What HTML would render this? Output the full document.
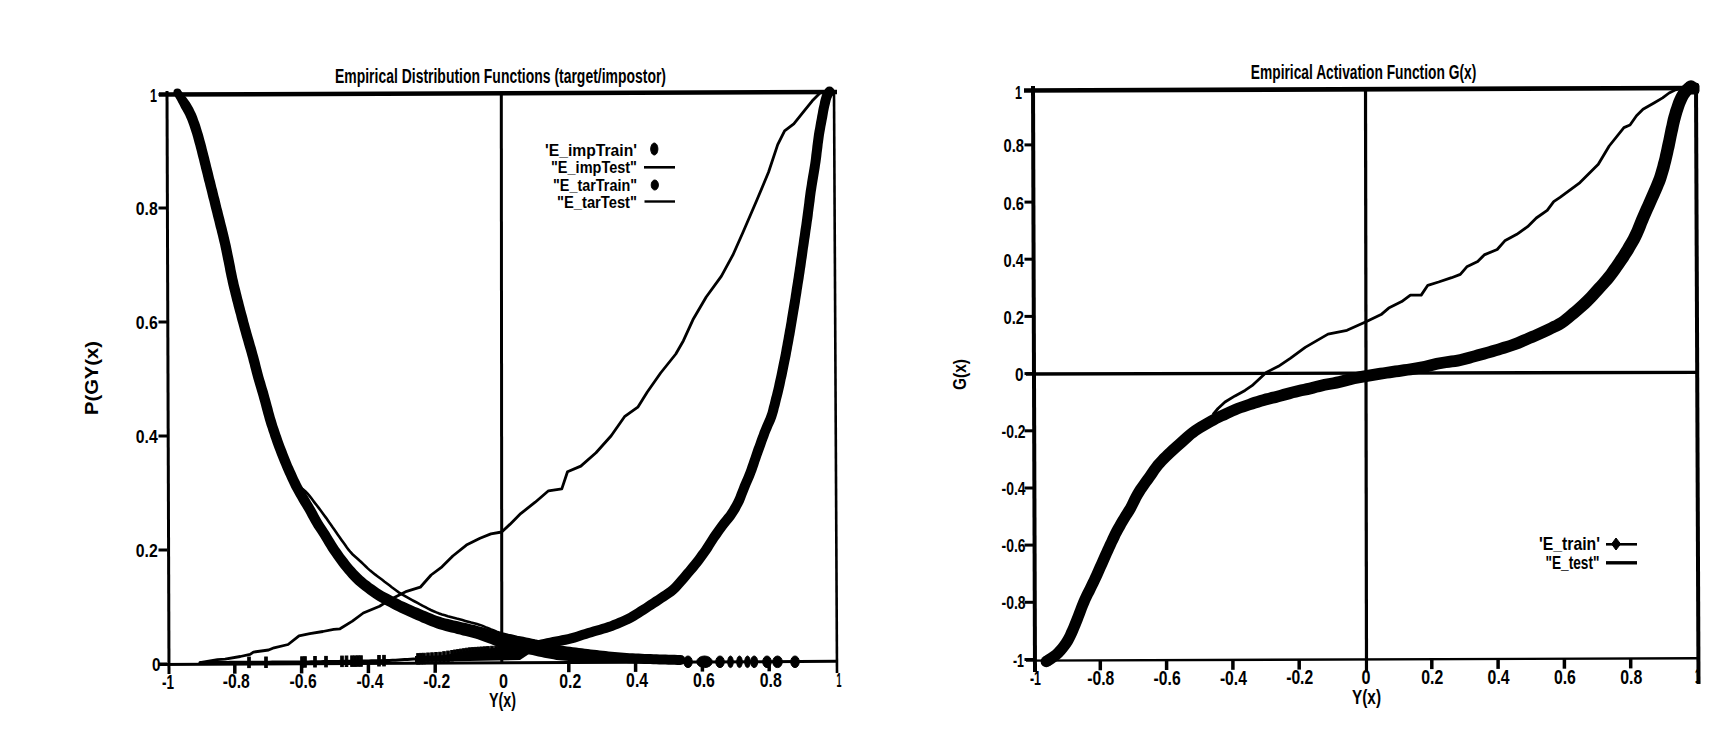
<!DOCTYPE html>
<html><head><meta charset="utf-8"><style>
html,body{margin:0;padding:0;background:#fff;width:1735px;height:737px;overflow:hidden}
svg{display:block}
text{font-family:"Liberation Sans",sans-serif;fill:#000}
</style></head><body>
<svg width="1735" height="737" viewBox="0 0 1735 737">
<rect width="1735" height="737" fill="#fff"/>
<g stroke="#000" fill="#000">
<line x1="167.0" y1="91.0" x2="169.0" y2="674.0" stroke-width="3.0"/>
<line x1="159.0" y1="94.5" x2="837.0" y2="92.0" stroke-width="4.5"/>
<line x1="834.0" y1="90.0" x2="837.0" y2="673.0" stroke-width="2.6"/>
<line x1="159.0" y1="664.5" x2="836.0" y2="661.3" stroke-width="3.0"/>
<line x1="501.3" y1="94.0" x2="501.8" y2="663.0" stroke-width="3.0"/>
<line x1="158.5" y1="94.5" x2="167.0" y2="94.5" stroke-width="3.0"/>
<line x1="158.5" y1="208.0" x2="167.0" y2="208.0" stroke-width="3.0"/>
<line x1="158.5" y1="322.0" x2="167.0" y2="322.0" stroke-width="3.0"/>
<line x1="158.5" y1="436.0" x2="167.0" y2="436.0" stroke-width="3.0"/>
<line x1="158.5" y1="550.0" x2="167.0" y2="550.0" stroke-width="3.0"/>
<line x1="158.5" y1="664.0" x2="167.0" y2="664.0" stroke-width="3.0"/>
<text stroke="none" x="157.8" y="214.8" font-size="19.0" text-anchor="end" font-weight="bold" textLength="22.0" lengthAdjust="spacingAndGlyphs">0.8</text>
<text stroke="none" x="157.8" y="328.8" font-size="19.0" text-anchor="end" font-weight="bold" textLength="22.0" lengthAdjust="spacingAndGlyphs">0.6</text>
<text stroke="none" x="157.8" y="442.8" font-size="19.0" text-anchor="end" font-weight="bold" textLength="22.0" lengthAdjust="spacingAndGlyphs">0.4</text>
<text stroke="none" x="157.8" y="556.8" font-size="19.0" text-anchor="end" font-weight="bold" textLength="22.0" lengthAdjust="spacingAndGlyphs">0.2</text>
<text stroke="none" x="157.0" y="101.5" font-size="19.0" text-anchor="end" font-weight="bold" textLength="7.0" lengthAdjust="spacingAndGlyphs">1</text>
<text stroke="none" x="160.5" y="670.5" font-size="19.0" text-anchor="end" font-weight="bold" textLength="8.5" lengthAdjust="spacingAndGlyphs">0</text>
<line x1="234.8" y1="663.7" x2="234.8" y2="673.7" stroke-width="3.5"/>
<line x1="301.6" y1="663.4" x2="301.6" y2="673.4" stroke-width="3.5"/>
<line x1="368.4" y1="663.1" x2="368.4" y2="673.1" stroke-width="3.5"/>
<line x1="435.2" y1="662.8" x2="435.2" y2="672.8" stroke-width="3.5"/>
<line x1="568.8" y1="662.2" x2="568.8" y2="672.2" stroke-width="3.5"/>
<line x1="635.6" y1="661.9" x2="635.6" y2="671.9" stroke-width="3.5"/>
<line x1="702.4" y1="661.6" x2="702.4" y2="671.6" stroke-width="3.5"/>
<line x1="769.2" y1="661.3" x2="769.2" y2="671.3" stroke-width="3.5"/>
<text stroke="none" x="168.0" y="688.5" font-size="19.5" text-anchor="middle" font-weight="bold" textLength="12.0" lengthAdjust="spacingAndGlyphs">-1</text>
<text stroke="none" x="236.3" y="688.3" font-size="19.5" text-anchor="middle" font-weight="bold" textLength="27.0" lengthAdjust="spacingAndGlyphs">-0.8</text>
<text stroke="none" x="303.1" y="688.2" font-size="19.5" text-anchor="middle" font-weight="bold" textLength="27.0" lengthAdjust="spacingAndGlyphs">-0.6</text>
<text stroke="none" x="369.9" y="688.0" font-size="19.5" text-anchor="middle" font-weight="bold" textLength="27.0" lengthAdjust="spacingAndGlyphs">-0.4</text>
<text stroke="none" x="436.7" y="687.9" font-size="19.5" text-anchor="middle" font-weight="bold" textLength="27.0" lengthAdjust="spacingAndGlyphs">-0.2</text>
<text stroke="none" x="503.5" y="687.7" font-size="19.5" text-anchor="middle" font-weight="bold" textLength="9.0" lengthAdjust="spacingAndGlyphs">0</text>
<text stroke="none" x="570.3" y="687.5" font-size="19.5" text-anchor="middle" font-weight="bold" textLength="22.0" lengthAdjust="spacingAndGlyphs">0.2</text>
<text stroke="none" x="637.1" y="687.4" font-size="19.5" text-anchor="middle" font-weight="bold" textLength="22.0" lengthAdjust="spacingAndGlyphs">0.4</text>
<text stroke="none" x="703.9" y="687.2" font-size="19.5" text-anchor="middle" font-weight="bold" textLength="22.0" lengthAdjust="spacingAndGlyphs">0.6</text>
<text stroke="none" x="770.7" y="687.1" font-size="19.5" text-anchor="middle" font-weight="bold" textLength="22.0" lengthAdjust="spacingAndGlyphs">0.8</text>
<text stroke="none" x="839.0" y="686.9" font-size="19.5" text-anchor="middle" font-weight="bold" textLength="5.0" lengthAdjust="spacingAndGlyphs">1</text>
<text stroke="none" x="502.5" y="707.0" font-size="20.5" text-anchor="middle" font-weight="bold" textLength="27.0" lengthAdjust="spacingAndGlyphs">Y(x)</text>
<text stroke="none" transform="translate(97.5,378) rotate(-90)" font-size="19" text-anchor="middle" font-weight="bold" textLength="74" lengthAdjust="spacingAndGlyphs">P(GY(x)</text>
<text stroke="none" x="500.5" y="82.5" font-size="20.0" text-anchor="middle" font-weight="bold" textLength="331.0" lengthAdjust="spacingAndGlyphs">Empirical Distribution Functions (target/impostor)</text>
<text stroke="none" x="637.0" y="155.5" font-size="17.0" text-anchor="end" font-weight="bold" textLength="92.0" lengthAdjust="spacingAndGlyphs">'E_impTrain'</text>
<text stroke="none" x="637.0" y="173.0" font-size="17.0" text-anchor="end" font-weight="bold" textLength="86.0" lengthAdjust="spacingAndGlyphs">"E_impTest"</text>
<text stroke="none" x="637.0" y="190.5" font-size="17.0" text-anchor="end" font-weight="bold" textLength="84.0" lengthAdjust="spacingAndGlyphs">"E_tarTrain"</text>
<text stroke="none" x="637.0" y="208.0" font-size="17.0" text-anchor="end" font-weight="bold" textLength="80.0" lengthAdjust="spacingAndGlyphs">"E_tarTest"</text>
<ellipse cx="654.3" cy="149" rx="3.6" ry="6"/>
<ellipse cx="654.8" cy="185" rx="3.6" ry="5"/>
<line x1="644.0" y1="167.3" x2="675.0" y2="167.3" stroke-width="2.6"/>
<line x1="644.5" y1="201.5" x2="675.0" y2="201.5" stroke-width="2.4"/>
<path d="M174.0 94.8 L175.5 97.5 L177.0 100.1 L178.4 102.7 L179.8 105.3 L181.1 107.9 L182.6 110.4 L184.0 112.9 L185.2 115.3 L186.4 117.9 L187.5 120.5 L188.5 123.2 L189.5 126.0 L190.4 128.7 L191.3 131.5 L192.2 134.3 L193.0 137.1 L193.8 140.0 L194.6 142.9 L195.4 145.7 L196.1 148.6 L196.9 151.5 L197.6 154.4 L198.3 157.3 L199.1 160.2 L199.8 163.2 L200.5 166.1 L201.2 169.0 L202.0 171.9 L202.7 174.8 L203.4 177.7 L204.1 180.7 L204.9 183.6 L205.6 186.5 L206.4 189.4 L207.1 192.3 L207.8 195.3 L208.5 198.2 L209.3 201.1 L210.0 204.0 L210.7 206.9 L211.4 209.8 L212.2 212.8 L212.9 215.7 L213.6 218.6 L214.4 221.5 L215.1 224.4 L215.8 227.4 L216.6 230.3 L217.3 233.2 L218.0 236.1 L218.7 239.0 L219.4 241.9 L220.1 244.8 L220.7 247.7 L221.3 250.6 L221.9 253.5 L222.5 256.4 L223.1 259.4 L223.7 262.3 L224.3 265.3 L224.9 268.2 L225.4 271.2 L226.0 274.1 L226.6 277.1 L227.3 280.1 L227.9 283.1 L228.6 286.1 L229.3 289.0 L230.1 291.9 L230.8 294.9 L231.5 297.8 L232.2 300.7 L233.0 303.6 L233.7 306.6 L234.5 309.5 L235.3 312.4 L236.1 315.3 L236.8 318.2 L237.6 321.2 L238.4 324.1 L239.2 327.0 L240.0 329.9 L240.8 332.8 L241.6 335.7 L242.4 338.6 L243.3 341.5 L244.1 344.4 L244.9 347.3 L245.8 350.2 L246.6 353.1 L247.4 355.9 L248.2 358.8 L248.9 361.7 L249.7 364.5 L250.4 367.5 L251.2 370.4 L251.9 373.3 L252.7 376.3 L253.5 379.2 L254.4 382.2 L255.2 385.1 L256.1 388.0 L256.9 390.8 L257.8 393.7 L258.6 396.5 L259.4 399.4 L260.2 402.3 L261.0 405.2 L261.7 408.1 L262.5 411.0 L263.3 413.9 L264.1 416.8 L264.9 419.8 L265.8 422.7 L266.7 425.7 L267.7 428.6 L268.6 431.4 L269.6 434.3 L270.5 437.2 L271.5 440.0 L272.5 442.9 L273.5 445.8 L274.6 448.7 L275.7 451.5 L276.8 454.4 L277.9 457.2 L279.0 460.0 L280.1 462.8 L281.3 465.6 L282.5 468.4 L283.7 471.2 L284.9 474.0 L286.2 476.8 L287.4 479.5 L288.7 482.3 L290.0 485.1 L291.4 487.9 L292.8 490.6 L294.3 493.3 L295.8 496.0 L297.3 498.6 L298.8 501.3 L300.4 503.9 L302.0 506.5 L303.5 509.1 L305.0 511.6 L306.4 514.1 L307.8 516.7 L309.2 519.3 L310.7 522.0 L312.3 524.8 L313.9 527.5 L315.6 530.1 L317.3 532.6 L318.9 535.0 L320.5 537.5 L322.0 540.0 L323.5 542.6 L325.1 545.2 L326.7 547.8 L328.3 550.4 L330.0 553.0 L331.8 555.5 L333.5 558.0 L335.3 560.6 L337.1 563.0 L338.9 565.5 L340.8 567.9 L342.7 570.3 L344.7 572.7 L346.7 575.1 L348.8 577.5 L350.9 579.8 L353.1 582.0 L355.4 584.2 L357.8 586.3 L360.2 588.3 L362.7 590.3 L365.1 592.1 L367.6 594.0 L370.1 595.8 L372.6 597.6 L375.2 599.3 L378.0 601.0 L380.7 602.6 L383.5 604.1 L386.2 605.4 L388.8 606.8 L391.4 608.2 L394.1 609.7 L396.9 611.1 L399.7 612.5 L402.5 613.8 L405.3 615.0 L408.0 616.3 L410.8 617.5 L413.5 618.7 L416.3 619.9 L419.0 621.1 L421.8 622.4 L424.6 623.6 L427.4 624.8 L430.3 625.9 L433.2 627.1 L436.2 628.2 L439.2 629.2 L442.2 630.1 L445.3 630.9 L448.2 631.7 L451.1 632.4 L454.1 633.1 L457.0 633.9 L459.9 634.6 L462.8 635.4 L465.7 636.1 L468.6 636.8 L471.5 637.6 L474.3 638.3 L477.0 639.1 L479.7 640.0 L482.4 641.0 L485.1 642.0 L487.9 643.0 L490.8 644.1 L493.7 645.2 L496.7 646.2 L499.8 647.2 L502.8 648.0 L505.8 648.8 L508.8 649.5 L511.8 650.2 L514.7 650.9 L517.6 651.6 L520.5 652.3 L523.5 653.0 L526.4 653.7 L529.3 654.4 L532.3 655.1 L535.3 655.8 L538.3 656.4 L541.3 657.1 L544.3 657.7 L547.3 658.2 L550.3 658.8 L553.3 659.3 L556.4 659.9 L559.5 660.3 L562.6 660.6 L565.7 660.8 L568.8 660.9 L571.8 661.1 L574.8 661.2 L577.8 661.3 L580.8 661.5 L583.9 661.6 L586.9 661.7 L589.9 661.8 L593.0 661.9 L596.0 662.0 L599.0 662.1 L602.0 662.2 L605.0 662.2 L608.0 662.3 L611.0 662.4 L614.1 662.4 L617.1 662.5 L620.1 662.6 L623.1 662.8 L626.1 663.0 L629.1 663.2 L632.2 663.3 L635.2 663.5 L638.2 663.6 L641.2 663.7 L644.2 663.9 L647.2 664.0 L650.2 664.1 L653.2 664.2 L656.3 664.3 L659.3 664.4 L662.3 664.5 L665.3 664.6 L668.4 664.7 L671.4 664.8 L674.4 664.8 L677.4 664.9 L680.4 665.0 L680.6 655.0 L677.6 654.9 L674.6 654.8 L671.6 654.8 L668.6 654.7 L665.6 654.6 L662.6 654.5 L659.6 654.4 L656.6 654.3 L653.6 654.2 L650.6 654.1 L647.6 654.0 L644.6 653.9 L641.6 653.7 L638.6 653.6 L635.6 653.5 L632.7 653.3 L629.7 653.2 L626.7 653.0 L623.7 652.8 L620.7 652.6 L617.7 652.3 L614.7 652.0 L611.7 651.7 L608.7 651.4 L605.8 651.0 L602.8 650.7 L599.8 650.4 L596.8 650.1 L593.8 649.7 L590.8 649.4 L587.9 649.1 L584.9 648.7 L582.0 648.3 L579.0 647.9 L576.0 647.5 L573.0 647.2 L570.1 646.8 L567.1 646.4 L564.2 645.9 L561.4 645.5 L558.6 645.1 L555.7 644.7 L552.8 644.2 L549.8 643.7 L546.9 643.3 L544.0 642.8 L541.1 642.2 L538.3 641.7 L535.4 641.1 L532.4 640.5 L529.5 639.9 L526.6 639.2 L523.6 638.6 L520.7 638.0 L517.7 637.4 L514.8 636.7 L511.9 636.1 L509.0 635.5 L506.2 634.8 L503.4 634.2 L500.7 633.4 L498.0 632.5 L495.3 631.6 L492.5 630.6 L489.7 629.6 L486.7 628.6 L483.7 627.6 L480.7 626.7 L477.6 625.9 L474.6 625.1 L471.6 624.4 L468.7 623.8 L465.8 623.1 L462.8 622.4 L459.9 621.8 L457.0 621.1 L454.0 620.4 L451.1 619.8 L448.2 619.1 L445.4 618.4 L442.7 617.7 L440.0 616.8 L437.3 615.9 L434.6 614.9 L431.9 613.8 L429.2 612.7 L426.4 611.6 L423.7 610.4 L420.9 609.2 L418.2 608.0 L415.4 606.9 L412.7 605.7 L409.9 604.5 L407.2 603.3 L404.5 602.1 L401.9 600.9 L399.3 599.6 L396.7 598.2 L394.0 596.9 L391.3 595.5 L388.6 594.1 L386.0 592.8 L383.6 591.5 L381.2 590.0 L378.8 588.5 L376.4 586.8 L374.0 585.1 L371.6 583.4 L369.3 581.6 L367.0 579.9 L364.8 578.1 L362.7 576.3 L360.6 574.3 L358.6 572.3 L356.6 570.2 L354.7 568.1 L352.8 566.0 L350.9 563.7 L349.1 561.4 L347.3 559.1 L345.5 556.7 L343.7 554.4 L342.0 552.0 L340.3 549.6 L338.6 547.2 L337.0 544.7 L335.4 542.3 L333.9 539.8 L332.3 537.3 L330.8 534.7 L329.2 532.0 L327.5 529.4 L325.9 526.9 L324.2 524.4 L322.6 522.0 L321.1 519.5 L319.7 517.1 L318.3 514.5 L316.9 511.8 L315.4 509.1 L313.9 506.4 L312.3 503.8 L310.8 501.2 L309.2 498.6 L307.7 496.1 L306.2 493.5 L304.8 490.9 L303.3 488.3 L301.9 485.8 L300.6 483.2 L299.3 480.6 L298.0 478.0 L296.8 475.3 L295.6 472.5 L294.3 469.8 L293.1 467.1 L291.9 464.4 L290.8 461.7 L289.7 458.9 L288.6 456.2 L287.5 453.4 L286.4 450.6 L285.3 447.8 L284.2 445.1 L283.2 442.3 L282.2 439.5 L281.3 436.7 L280.3 433.9 L279.3 431.0 L278.4 428.2 L277.4 425.4 L276.5 422.5 L275.7 419.7 L274.8 416.9 L274.0 414.1 L273.2 411.2 L272.5 408.3 L271.7 405.4 L270.9 402.5 L270.1 399.6 L269.3 396.7 L268.5 393.7 L267.7 390.8 L266.8 387.9 L265.9 385.0 L265.1 382.1 L264.2 379.3 L263.4 376.4 L262.6 373.6 L261.9 370.7 L261.1 367.8 L260.4 364.9 L259.7 362.0 L258.9 359.1 L258.1 356.1 L257.3 353.2 L256.5 350.3 L255.7 347.3 L254.8 344.4 L254.0 341.6 L253.2 338.7 L252.3 335.8 L251.5 332.9 L250.7 330.0 L249.9 327.2 L249.1 324.3 L248.3 321.4 L247.6 318.5 L246.8 315.6 L246.0 312.7 L245.2 309.8 L244.5 306.9 L243.7 304.0 L243.0 301.1 L242.2 298.2 L241.5 295.3 L240.8 292.4 L240.1 289.5 L239.3 286.6 L238.6 283.7 L238.0 280.8 L237.3 277.9 L236.7 275.0 L236.1 272.1 L235.5 269.2 L235.0 266.2 L234.4 263.3 L233.8 260.3 L233.2 257.3 L232.6 254.4 L232.0 251.4 L231.4 248.5 L230.8 245.5 L230.1 242.5 L229.4 239.5 L228.7 236.6 L228.0 233.6 L227.3 230.7 L226.6 227.8 L225.8 224.8 L225.1 221.9 L224.4 219.0 L223.6 216.1 L222.9 213.2 L222.2 210.3 L221.4 207.4 L220.7 204.4 L220.0 201.5 L219.3 198.6 L218.5 195.7 L217.8 192.8 L217.1 189.8 L216.3 186.9 L215.6 184.0 L214.9 181.1 L214.1 178.2 L213.4 175.3 L212.7 172.3 L212.0 169.4 L211.2 166.5 L210.5 163.6 L209.8 160.7 L209.1 157.7 L208.3 154.8 L207.6 151.9 L206.8 149.0 L206.1 146.0 L205.3 143.1 L204.5 140.2 L203.7 137.2 L202.9 134.3 L202.0 131.4 L201.1 128.4 L200.2 125.5 L199.2 122.6 L198.1 119.7 L197.1 116.7 L195.9 113.8 L194.5 110.9 L193.1 108.0 L191.5 105.3 L189.9 102.6 L188.1 100.1 L186.3 97.6 L184.4 95.2 L182.6 92.8 L180.8 90.4 Z" stroke="none"/>
<circle cx="177.4" cy="92.6" r="4.0" stroke="none"/>
<circle cx="680.5" cy="660.0" r="5.0" stroke="none"/>
<path d="M296.0 484.0 L298.4 485.8 L300.8 487.7 L303.2 489.5 L305.5 491.5 L307.6 493.6 L309.5 495.9 L311.4 498.3 L313.2 500.7 L315.0 503.1 L316.9 505.5 L318.7 507.9 L320.5 510.3 L322.3 512.7 L324.1 515.2 L325.9 517.6 L327.6 520.1 L329.3 522.6 L331.1 525.0 L332.8 527.5 L334.6 530.0 L336.3 532.5 L338.0 534.9 L339.8 537.4 L341.5 539.9 L343.2 542.3 L345.0 544.8 L346.7 547.3 L348.5 549.7 L350.4 552.0 L352.5 554.2 L354.7 556.2 L357.0 558.2 L359.2 560.3 L361.4 562.3 L363.6 564.4 L365.8 566.5 L368.0 568.6 L370.2 570.6 L372.6 572.5 L375.0 574.4 L377.4 576.2 L379.8 578.0 L382.2 579.8 L384.6 581.7 L387.0 583.5 L389.4 585.3 L391.8 587.2 L394.2 589.0 L396.6 590.8 L399.1 592.6 L401.6 594.2 L404.2 595.7 L406.9 597.2 L409.5 598.6 L412.2 600.1 L414.8 601.5 L417.5 602.9 L420.1 604.4 L422.8 605.8 L425.4 607.2 L428.1 608.6 L430.8 610.0 L433.6 611.2 L436.4 612.4 L439.2 613.5 L442.0 614.5 L444.9 615.3 L447.8 616.2 L450.7 617.0 L453.6 617.8 L456.6 618.6 L459.5 619.3 L462.4 620.1 L465.3 620.9 L468.2 621.7 L471.2 622.5 L474.1 623.2 L477.0 624.0 L479.9 624.9 L482.7 625.9 L485.5 627.1 L488.3 628.2 L491.1 629.4 L493.9 630.5 L496.7 631.6 L499.5 632.6 L502.4 633.5 L505.4 634.2 L508.3 634.9 L511.3 635.5 L514.2 636.2 L517.2 636.9 L520.1 637.5 L523.1 638.1 L526.0 638.7 L529.0 639.3 L531.9 639.9 L534.9 640.6 L537.9 641.2 L540.8 641.8 L543.8 642.4 L546.7 643.1 L549.7 643.7 L552.6 644.4 L555.6 645.0 L560.0 646.0" fill="none" stroke-width="2.6"/>
<path d="M200.0 664.0 L203.0 664.0 L206.0 664.0 L209.0 664.0 L212.0 663.9 L215.0 663.9 L218.1 663.9 L221.1 663.9 L224.1 663.9 L227.1 663.9 L230.1 663.8 L233.1 663.8 L236.1 663.8 L239.1 663.8 L242.1 663.8 L245.1 663.8 L248.1 663.8 L251.1 663.7 L254.1 663.7 L257.1 663.7 L260.2 663.7 L263.2 663.7 L266.2 663.7 L269.2 663.7 L272.2 663.6 L275.2 663.6 L278.2 663.6 L281.2 663.6 L284.2 663.6 L287.2 663.6 L290.2 663.5 L293.2 663.5 L296.2 663.5 L299.3 663.5 L302.3 663.5 L305.3 663.4 L308.3 663.4 L311.3 663.3 L314.3 663.3 L317.3 663.2 L320.3 663.2 L323.3 663.1 L326.3 663.1 L329.3 663.0 L332.3 663.0 L335.3 662.9 L338.3 662.9 L341.4 662.8 L344.4 662.8 L347.4 662.7 L350.4 662.7 L353.4 662.6 L356.4 662.6 L359.4 662.5 L362.4 662.5 L365.4 662.4 L368.4 662.4 L371.4 662.3 L374.4 662.3 L377.4 662.2 L380.4 662.2 L383.5 662.1 L386.5 662.0 L389.5 662.0 L392.5 661.8 L395.5 661.7 L398.5 661.5 L401.5 661.3 L404.5 661.1 L407.5 661.0 L410.5 660.8 L413.5 660.6 L416.5 660.4 L419.5 660.2 L422.5 660.0 L425.6 659.9 L428.6 659.7 L431.6 659.5 L434.6 659.3 L437.6 659.1 L440.6 658.8 L443.6 658.6 L446.7 658.2 L449.7 657.9 L452.6 657.6 L455.6 657.2 L458.6 656.9 L461.6 656.5 L464.6 656.2 L467.5 655.9 L470.5 655.7 L473.4 655.5 L476.4 655.4 L479.4 655.3 L482.4 655.2 L485.4 655.1 L488.4 655.0 L491.4 654.9 L494.5 654.8 L497.5 654.6 L500.5 654.5 L503.6 654.3 L506.6 654.0 L509.6 653.7 L512.7 653.5 L515.7 653.2 L518.7 652.9 L521.7 652.5 L524.8 652.2 L527.8 651.7 L530.8 651.3 L533.8 650.9 L536.8 650.5 L539.8 650.0 L542.8 649.4 L545.8 648.8 L548.8 648.1 L551.7 647.4 L554.6 646.8 L557.4 646.2 L560.3 645.7 L563.3 645.2 L566.3 644.7 L569.4 644.0 L572.5 643.3 L575.5 642.4 L578.5 641.5 L581.4 640.6 L584.2 639.6 L587.1 638.7 L589.9 637.8 L592.7 637.0 L595.6 636.1 L598.4 635.3 L601.3 634.5 L604.2 633.6 L607.2 632.8 L610.2 631.8 L613.2 630.8 L616.1 629.6 L618.9 628.4 L621.7 627.3 L624.5 626.1 L627.3 624.8 L630.2 623.5 L633.1 622.0 L635.8 620.4 L638.5 618.8 L641.0 617.2 L643.6 615.5 L646.1 613.9 L648.7 612.3 L651.2 610.6 L653.7 609.0 L656.3 607.3 L658.8 605.7 L661.3 604.0 L663.8 602.3 L666.3 600.7 L668.8 599.0 L671.4 597.3 L674.0 595.4 L676.6 593.3 L679.0 591.0 L681.2 588.6 L683.2 586.3 L685.2 584.0 L687.2 581.7 L689.1 579.4 L691.1 577.1 L693.0 574.8 L695.0 572.5 L697.0 570.2 L698.9 567.8 L700.8 565.4 L702.7 562.9 L704.5 560.5 L706.3 558.1 L708.1 555.5 L709.9 553.0 L711.6 550.4 L713.2 547.8 L714.8 545.3 L716.4 542.8 L718.0 540.3 L719.7 537.9 L721.4 535.5 L723.1 533.1 L724.8 530.7 L726.6 528.3 L728.4 526.0 L730.2 523.7 L732.1 521.4 L734.1 518.9 L735.9 516.3 L737.7 513.6 L739.3 510.9 L740.8 508.1 L742.3 505.3 L743.7 502.4 L744.9 499.5 L746.0 496.6 L747.1 493.8 L748.2 491.0 L749.3 488.3 L750.4 485.6 L751.6 482.8 L752.8 480.0 L754.0 477.2 L755.1 474.3 L756.2 471.4 L757.2 468.5 L758.2 465.7 L759.1 462.8 L760.1 460.0 L761.1 457.1 L762.1 454.3 L763.1 451.5 L764.1 448.7 L765.1 445.9 L766.1 443.0 L767.1 440.2 L768.2 437.4 L769.2 434.6 L770.2 431.9 L771.4 429.3 L772.5 426.5 L773.8 423.8 L775.0 420.9 L776.1 417.9 L777.1 414.8 L778.0 411.8 L778.7 408.8 L779.5 405.9 L780.2 402.9 L780.9 400.0 L781.7 397.1 L782.4 394.2 L783.1 391.2 L783.8 388.3 L784.5 385.3 L785.1 382.3 L785.7 379.3 L786.4 376.4 L787.0 373.4 L787.6 370.5 L788.2 367.6 L788.8 364.6 L789.4 361.6 L790.0 358.7 L790.6 355.7 L791.1 352.7 L791.7 349.7 L792.2 346.8 L792.8 343.8 L793.3 340.9 L793.8 337.9 L794.4 334.9 L794.9 331.9 L795.4 329.0 L795.9 326.0 L796.4 323.0 L796.9 320.0 L797.4 317.1 L797.9 314.1 L798.4 311.1 L798.9 308.2 L799.4 305.2 L799.9 302.2 L800.3 299.2 L800.8 296.2 L801.3 293.3 L801.7 290.3 L802.2 287.3 L802.6 284.4 L803.1 281.4 L803.6 278.4 L804.0 275.4 L804.5 272.4 L804.9 269.5 L805.4 266.5 L805.8 263.5 L806.2 260.5 L806.7 257.5 L807.1 254.6 L807.5 251.6 L807.9 248.6 L808.4 245.6 L808.8 242.7 L809.2 239.7 L809.7 236.7 L810.1 233.7 L810.5 230.8 L811.0 227.8 L811.4 224.8 L811.8 221.8 L812.3 218.8 L812.7 215.8 L813.0 212.8 L813.4 209.8 L813.8 206.8 L814.2 203.8 L814.6 200.9 L814.9 197.9 L815.3 194.9 L815.7 192.0 L816.2 189.1 L816.6 186.2 L817.1 183.2 L817.6 180.2 L818.1 177.3 L818.6 174.3 L819.1 171.3 L819.6 168.3 L820.0 165.3 L820.5 162.3 L820.9 159.3 L821.3 156.3 L821.6 153.3 L822.0 150.3 L822.4 147.3 L822.7 144.3 L823.1 141.4 L823.5 138.4 L823.9 135.5 L824.4 132.6 L824.9 129.7 L825.4 126.8 L826.0 123.8 L826.5 120.9 L827.1 117.9 L827.6 115.0 L828.1 112.0 L828.7 109.1 L829.3 106.2 L830.0 103.4 L830.6 100.7 L831.3 98.4 L832.2 96.4 L833.6 94.4 L825.4 88.7 L823.5 91.5 L822.0 94.7 L821.0 98.0 L820.2 101.1 L819.6 104.2 L818.9 107.1 L818.3 110.1 L817.8 113.1 L817.2 116.1 L816.7 119.1 L816.1 122.0 L815.6 125.0 L815.1 128.0 L814.5 131.0 L814.0 134.0 L813.6 137.0 L813.2 140.1 L812.8 143.1 L812.4 146.1 L812.1 149.1 L811.7 152.0 L811.3 155.0 L811.0 158.0 L810.6 160.9 L810.2 163.8 L809.7 166.8 L809.2 169.7 L808.7 172.7 L808.2 175.6 L807.7 178.6 L807.2 181.6 L806.8 184.6 L806.3 187.6 L805.8 190.6 L805.4 193.6 L805.0 196.6 L804.6 199.6 L804.3 202.6 L803.9 205.6 L803.5 208.6 L803.1 211.5 L802.7 214.5 L802.3 217.5 L801.9 220.4 L801.5 223.4 L801.1 226.3 L800.6 229.3 L800.2 232.3 L799.8 235.3 L799.3 238.2 L798.9 241.2 L798.5 244.2 L798.0 247.2 L797.6 250.2 L797.2 253.1 L796.8 256.1 L796.3 259.1 L795.9 262.1 L795.5 265.0 L795.0 268.0 L794.6 271.0 L794.1 273.9 L793.7 276.9 L793.2 279.9 L792.8 282.8 L792.3 285.8 L791.8 288.8 L791.4 291.7 L790.9 294.7 L790.5 297.7 L790.0 300.6 L789.5 303.6 L789.0 306.5 L788.5 309.5 L788.0 312.5 L787.5 315.4 L787.0 318.4 L786.6 321.4 L786.1 324.3 L785.6 327.3 L785.0 330.2 L784.5 333.2 L784.0 336.1 L783.5 339.1 L782.9 342.0 L782.4 345.0 L781.8 347.9 L781.3 350.9 L780.8 353.8 L780.2 356.7 L779.6 359.7 L779.0 362.6 L778.4 365.5 L777.8 368.5 L777.2 371.4 L776.6 374.4 L776.0 377.3 L775.3 380.2 L774.7 383.1 L774.1 386.0 L773.4 388.9 L772.7 391.8 L772.0 394.7 L771.2 397.6 L770.5 400.5 L769.8 403.4 L769.0 406.3 L768.3 409.2 L767.6 411.9 L766.7 414.6 L765.7 417.2 L764.6 419.8 L763.4 422.5 L762.2 425.3 L761.0 428.2 L759.8 431.1 L758.8 434.0 L757.7 436.8 L756.7 439.6 L755.7 442.5 L754.7 445.3 L753.6 448.1 L752.6 451.0 L751.6 453.9 L750.7 456.7 L749.7 459.6 L748.7 462.4 L747.7 465.2 L746.8 468.0 L745.8 470.8 L744.7 473.5 L743.6 476.2 L742.4 478.9 L741.2 481.7 L740.0 484.5 L738.9 487.4 L737.8 490.2 L736.7 493.0 L735.7 495.7 L734.6 498.3 L733.4 500.8 L732.1 503.3 L730.6 505.8 L729.2 508.3 L727.7 510.6 L726.1 512.9 L724.3 515.1 L722.4 517.4 L720.5 519.8 L718.6 522.3 L716.8 524.7 L715.0 527.2 L713.2 529.7 L711.4 532.2 L709.7 534.8 L708.0 537.4 L706.4 539.9 L704.8 542.5 L703.2 545.0 L701.6 547.4 L700.0 549.8 L698.2 552.1 L696.5 554.5 L694.7 556.9 L692.9 559.2 L691.1 561.5 L689.2 563.8 L687.4 566.1 L685.4 568.4 L683.5 570.6 L681.5 572.9 L679.6 575.2 L677.6 577.5 L675.7 579.7 L673.7 581.9 L671.9 584.0 L670.0 585.8 L667.9 587.4 L665.7 589.0 L663.3 590.7 L660.8 592.3 L658.3 594.0 L655.8 595.7 L653.2 597.3 L650.8 599.0 L648.3 600.6 L645.8 602.3 L643.3 603.9 L640.7 605.5 L638.2 607.1 L635.7 608.7 L633.2 610.3 L630.7 611.8 L628.3 613.2 L625.8 614.5 L623.2 615.7 L620.5 616.9 L617.8 618.0 L615.1 619.2 L612.3 620.3 L609.7 621.4 L607.0 622.3 L604.3 623.2 L601.5 624.0 L598.6 624.9 L595.7 625.7 L592.8 626.5 L589.9 627.4 L586.9 628.3 L584.0 629.2 L581.2 630.1 L578.3 631.0 L575.5 632.0 L572.7 632.8 L569.9 633.6 L567.2 634.3 L564.4 634.8 L561.5 635.3 L558.6 635.9 L555.5 636.4 L552.5 637.0 L549.5 637.7 L546.5 638.3 L543.6 639.0 L540.8 639.6 L537.9 640.3 L535.0 640.9 L532.1 641.6 L529.2 642.2 L526.2 642.8 L523.3 643.4 L520.4 644.0 L517.5 644.5 L514.6 645.0 L511.6 645.5 L508.7 646.0 L505.7 646.4 L502.8 646.9 L499.9 647.3 L496.9 647.7 L494.0 648.0 L491.0 648.3 L488.0 648.6 L485.0 648.9 L482.0 649.2 L479.0 649.5 L476.0 649.8 L473.0 650.2 L469.9 650.6 L466.9 651.0 L463.9 651.5 L461.0 652.1 L458.0 652.6 L455.0 653.2 L452.1 653.7 L449.1 654.3 L446.2 654.8 L443.2 655.3 L440.3 655.8 L437.3 656.1 L434.4 656.3 L431.4 656.5 L428.4 656.7 L425.4 656.9 L422.4 657.1 L419.4 657.2 L416.4 657.4 L413.4 657.6 L410.4 657.8 L407.4 658.0 L404.4 658.1 L401.4 658.3 L398.4 658.5 L395.4 658.7 L392.4 658.8 L389.4 659.0 L386.4 659.0 L383.4 659.1 L380.4 659.2 L377.4 659.2 L374.4 659.3 L371.4 659.3 L368.4 659.4 L365.4 659.4 L362.4 659.5 L359.3 659.5 L356.3 659.6 L353.3 659.6 L350.3 659.7 L347.3 659.7 L344.3 659.8 L341.3 659.8 L338.3 659.9 L335.3 659.9 L332.3 660.0 L329.3 660.0 L326.3 660.1 L323.3 660.1 L320.3 660.2 L317.3 660.2 L314.2 660.3 L311.2 660.3 L308.2 660.4 L305.2 660.4 L302.2 660.5 L299.2 660.5 L296.2 660.5 L293.2 660.5 L290.2 660.5 L287.2 660.6 L284.2 660.6 L281.2 660.6 L278.2 660.6 L275.2 660.6 L272.2 660.6 L269.2 660.7 L266.1 660.7 L263.1 660.7 L260.1 660.7 L257.1 660.7 L254.1 660.7 L251.1 660.7 L248.1 660.8 L245.1 660.8 L242.1 660.8 L239.1 660.8 L236.1 660.8 L233.1 660.8 L230.1 660.8 L227.1 660.9 L224.0 660.9 L221.0 660.9 L218.0 660.9 L215.0 660.9 L212.0 660.9 L209.0 661.0 L206.0 661.0 L203.0 661.0 L200.0 661.0 Z" stroke="none"/>
<circle cx="200.0" cy="662.5" r="1.5" stroke="none"/>
<circle cx="829.5" cy="91.5" r="5.0" stroke="none"/>
<path d="M415 656 L500 654 L535 650 L520 660 L415 662 Z" stroke="none"/>
<path d="M201.3 662.4 L217.5 659.7 L225.1 659.2 L240.3 656.5 L250.1 654.3 L253.4 652.1 L268.6 650.0 L274.0 647.8 L288.1 644.5 L299.0 635.8 L309.8 633.7 L322.9 631.5 L333.7 629.3 L340.0 628.8 L352.4 621.1 L363.3 613.0 L379.6 606.2 L390.4 599.4 L406.7 591.3 L420.3 587.2 L431.1 575.0 L442.0 566.8 L452.8 556.0 L466.4 545.1 L480.0 538.3 L490.9 533.9 L501.7 532.0 L509.9 524.4 L520.7 513.6 L535.2 502.2 L548.5 490.8 L561.8 488.9 L567.5 471.8 L580.8 466.1 L596.0 452.8 L611.2 435.7 L624.5 416.7 L637.8 407.2 L647.3 392.0 L660.6 373.0 L675.8 354.0 L683.4 340.7 L692.9 319.8 L706.2 297.0 L721.4 276.1 L732.8 255.2 L743.0 232.3 L756.9 200.0 L768.5 172.3 L777.7 144.6 L784.6 130.8 L793.8 123.8 L803.0 112.3 L812.3 100.8 L821.5 91.5" fill="none" stroke-width="2.8" stroke-linejoin="round"/>
<ellipse cx="688.0" cy="661.8" rx="4.3" ry="5.8"/>
<ellipse cx="704.5" cy="661.8" rx="7.8" ry="5.8"/>
<ellipse cx="720.0" cy="661.8" rx="4.3" ry="5.8"/>
<ellipse cx="730.5" cy="661.8" rx="2.8" ry="5.8"/>
<ellipse cx="739.5" cy="661.8" rx="2.8" ry="5.8"/>
<ellipse cx="747.5" cy="661.8" rx="2.8" ry="5.8"/>
<ellipse cx="754.2" cy="661.8" rx="3.5" ry="5.8"/>
<ellipse cx="767.0" cy="661.8" rx="4.3" ry="5.8"/>
<ellipse cx="777.5" cy="661.8" rx="4.8" ry="5.8"/>
<ellipse cx="795.0" cy="661.8" rx="4.3" ry="5.8"/>
<rect x="247.7" y="657.1" width="2.6" height="10.5"/>
<rect x="264.7" y="657.0" width="2.6" height="10.5"/>
<rect x="300.7" y="656.8" width="2.6" height="10.5"/>
<rect x="303.7" y="656.7" width="2.6" height="10.5"/>
<rect x="313.7" y="656.5" width="2.6" height="10.5"/>
<rect x="324.7" y="656.4" width="2.6" height="10.5"/>
<rect x="340.7" y="656.1" width="2.6" height="10.5"/>
<rect x="345.2" y="656.0" width="2.6" height="10.5"/>
<rect x="350.7" y="655.9" width="2.6" height="10.5"/>
<rect x="353.7" y="655.9" width="2.6" height="10.5"/>
<rect x="356.7" y="655.8" width="2.6" height="10.5"/>
<rect x="359.7" y="655.8" width="2.6" height="10.5"/>
<rect x="377.7" y="655.5" width="2.6" height="10.5"/>
<rect x="382.7" y="655.4" width="2.6" height="10.5"/>
<rect x="416.7" y="653.6" width="2.6" height="10.5"/>
<rect x="419.7" y="653.4" width="2.6" height="10.5"/>
<rect x="422.7" y="653.3" width="2.6" height="10.5"/>
<rect x="426.7" y="653.0" width="2.6" height="10.5"/>
<rect x="430.7" y="652.8" width="2.6" height="10.5"/>
<rect x="434.7" y="652.5" width="2.6" height="10.5"/>
<rect x="438.7" y="652.3" width="2.6" height="10.5"/>
<rect x="442.7" y="651.7" width="2.6" height="10.5"/>
<rect x="446.7" y="651.1" width="2.6" height="10.5"/>
<rect x="450.7" y="650.5" width="2.6" height="10.5"/>
<rect x="453.7" y="650.0" width="2.6" height="10.5"/>
<rect x="456.7" y="649.6" width="2.6" height="10.5"/>
<rect x="459.7" y="649.1" width="2.6" height="10.5"/>
<rect x="462.7" y="648.7" width="2.6" height="10.5"/>
<rect x="465.7" y="648.2" width="2.6" height="10.5"/>
<rect x="468.7" y="647.8" width="2.6" height="10.5"/>
<rect x="471.7" y="647.6" width="2.6" height="10.5"/>
<rect x="474.7" y="647.4" width="2.6" height="10.5"/>
<rect x="477.7" y="647.2" width="2.6" height="10.5"/>
<rect x="480.7" y="647.0" width="2.6" height="10.5"/>
<rect x="483.7" y="646.8" width="2.6" height="10.5"/>
<rect x="486.7" y="646.6" width="2.6" height="10.5"/>
<rect x="490.7" y="646.3" width="2.6" height="10.5"/>
<rect x="494.7" y="646.1" width="2.6" height="10.5"/>
<rect x="497.7" y="645.9" width="2.6" height="10.5"/>
<rect x="502.7" y="645.3" width="2.6" height="10.5"/>
<rect x="506.7" y="644.8" width="2.6" height="10.5"/>
<rect x="510.7" y="644.3" width="2.6" height="10.5"/>
<line x1="1033.0" y1="86.0" x2="1035.0" y2="672.0" stroke-width="4.0"/>
<line x1="1024.0" y1="90.5" x2="1699.0" y2="88.0" stroke-width="4.6"/>
<line x1="1696.0" y1="84.0" x2="1698.5" y2="684.0" stroke-width="4.0"/>
<line x1="1026.0" y1="660.6" x2="1697.0" y2="658.3" stroke-width="2.4"/>
<line x1="1026.0" y1="374.0" x2="1696.0" y2="372.3" stroke-width="3.3"/>
<line x1="1365.5" y1="88.0" x2="1366.5" y2="671.0" stroke-width="3.2"/>
<line x1="1024.5" y1="144.9" x2="1033.0" y2="144.9" stroke-width="3.0"/>
<line x1="1024.5" y1="202.1" x2="1033.0" y2="202.1" stroke-width="3.0"/>
<line x1="1024.5" y1="259.2" x2="1033.0" y2="259.2" stroke-width="3.0"/>
<line x1="1024.5" y1="316.4" x2="1033.0" y2="316.4" stroke-width="3.0"/>
<line x1="1024.5" y1="373.6" x2="1033.0" y2="373.6" stroke-width="3.0"/>
<line x1="1024.5" y1="430.8" x2="1033.0" y2="430.8" stroke-width="3.0"/>
<line x1="1024.5" y1="488.0" x2="1033.0" y2="488.0" stroke-width="3.0"/>
<line x1="1024.5" y1="545.1" x2="1033.0" y2="545.1" stroke-width="3.0"/>
<line x1="1024.5" y1="602.3" x2="1033.0" y2="602.3" stroke-width="3.0"/>
<line x1="1024.5" y1="659.5" x2="1033.0" y2="659.5" stroke-width="3.0"/>
<text stroke="none" x="1024.0" y="152.4" font-size="19.0" text-anchor="end" font-weight="bold" textLength="20.5" lengthAdjust="spacingAndGlyphs">0.8</text>
<text stroke="none" x="1024.0" y="209.5" font-size="19.0" text-anchor="end" font-weight="bold" textLength="20.5" lengthAdjust="spacingAndGlyphs">0.6</text>
<text stroke="none" x="1024.0" y="266.6" font-size="19.0" text-anchor="end" font-weight="bold" textLength="20.5" lengthAdjust="spacingAndGlyphs">0.4</text>
<text stroke="none" x="1024.0" y="323.7" font-size="19.0" text-anchor="end" font-weight="bold" textLength="20.5" lengthAdjust="spacingAndGlyphs">0.2</text>
<text stroke="none" x="1025.5" y="437.9" font-size="19.0" text-anchor="end" font-weight="bold" textLength="24.0" lengthAdjust="spacingAndGlyphs">-0.2</text>
<text stroke="none" x="1025.5" y="495.0" font-size="19.0" text-anchor="end" font-weight="bold" textLength="24.0" lengthAdjust="spacingAndGlyphs">-0.4</text>
<text stroke="none" x="1025.5" y="552.1" font-size="19.0" text-anchor="end" font-weight="bold" textLength="24.0" lengthAdjust="spacingAndGlyphs">-0.6</text>
<text stroke="none" x="1025.5" y="609.2" font-size="19.0" text-anchor="end" font-weight="bold" textLength="24.0" lengthAdjust="spacingAndGlyphs">-0.8</text>
<text stroke="none" x="1022.0" y="98.5" font-size="19.0" text-anchor="end" font-weight="bold" textLength="7.0" lengthAdjust="spacingAndGlyphs">1</text>
<text stroke="none" x="1023.5" y="380.5" font-size="19.0" text-anchor="end" font-weight="bold" textLength="8.5" lengthAdjust="spacingAndGlyphs">0</text>
<text stroke="none" x="1024.0" y="667.0" font-size="19.0" text-anchor="end" font-weight="bold" textLength="11.0" lengthAdjust="spacingAndGlyphs">-1</text>
<line x1="1100.3" y1="660.3" x2="1100.3" y2="670.3" stroke-width="3.5"/>
<line x1="1166.6" y1="660.0" x2="1166.6" y2="670.0" stroke-width="3.5"/>
<line x1="1232.9" y1="659.8" x2="1232.9" y2="669.8" stroke-width="3.5"/>
<line x1="1299.2" y1="659.6" x2="1299.2" y2="669.6" stroke-width="3.5"/>
<line x1="1431.8" y1="659.1" x2="1431.8" y2="669.1" stroke-width="3.5"/>
<line x1="1498.1" y1="658.9" x2="1498.1" y2="668.9" stroke-width="3.5"/>
<line x1="1564.4" y1="658.7" x2="1564.4" y2="668.7" stroke-width="3.5"/>
<line x1="1630.7" y1="658.4" x2="1630.7" y2="668.4" stroke-width="3.5"/>
<text stroke="none" x="1035.4" y="685.0" font-size="19.5" text-anchor="middle" font-weight="bold" textLength="11.0" lengthAdjust="spacingAndGlyphs">-1</text>
<text stroke="none" x="1100.8" y="684.8" font-size="19.5" text-anchor="middle" font-weight="bold" textLength="27.0" lengthAdjust="spacingAndGlyphs">-0.8</text>
<text stroke="none" x="1167.1" y="684.7" font-size="19.5" text-anchor="middle" font-weight="bold" textLength="27.0" lengthAdjust="spacingAndGlyphs">-0.6</text>
<text stroke="none" x="1233.4" y="684.5" font-size="19.5" text-anchor="middle" font-weight="bold" textLength="27.0" lengthAdjust="spacingAndGlyphs">-0.4</text>
<text stroke="none" x="1299.7" y="684.4" font-size="19.5" text-anchor="middle" font-weight="bold" textLength="27.0" lengthAdjust="spacingAndGlyphs">-0.2</text>
<text stroke="none" x="1366.0" y="684.2" font-size="19.5" text-anchor="middle" font-weight="bold" textLength="9.0" lengthAdjust="spacingAndGlyphs">0</text>
<text stroke="none" x="1432.3" y="684.0" font-size="19.5" text-anchor="middle" font-weight="bold" textLength="22.0" lengthAdjust="spacingAndGlyphs">0.2</text>
<text stroke="none" x="1498.6" y="683.9" font-size="19.5" text-anchor="middle" font-weight="bold" textLength="22.0" lengthAdjust="spacingAndGlyphs">0.4</text>
<text stroke="none" x="1564.9" y="683.7" font-size="19.5" text-anchor="middle" font-weight="bold" textLength="22.0" lengthAdjust="spacingAndGlyphs">0.6</text>
<text stroke="none" x="1631.2" y="683.6" font-size="19.5" text-anchor="middle" font-weight="bold" textLength="22.0" lengthAdjust="spacingAndGlyphs">0.8</text>
<text stroke="none" x="1697.5" y="683.4" font-size="19.5" text-anchor="middle" font-weight="bold" textLength="5.0" lengthAdjust="spacingAndGlyphs">1</text>
<text stroke="none" x="1366.5" y="703.5" font-size="20.5" text-anchor="middle" font-weight="bold" textLength="29.0" lengthAdjust="spacingAndGlyphs">Y(x)</text>
<text stroke="none" transform="translate(966,374.5) rotate(-90)" font-size="18" text-anchor="middle" font-weight="bold" textLength="31" lengthAdjust="spacingAndGlyphs">G(x)</text>
<text stroke="none" x="1363.5" y="79.0" font-size="21.0" text-anchor="middle" font-weight="bold" textLength="225.5" lengthAdjust="spacingAndGlyphs">Empirical Activation Function G(x)</text>
<text stroke="none" x="1600.0" y="550.0" font-size="18.5" text-anchor="end" font-weight="bold" textLength="61.0" lengthAdjust="spacingAndGlyphs">'E_train'</text>
<text stroke="none" x="1599.5" y="568.5" font-size="18.5" text-anchor="end" font-weight="bold" textLength="54.0" lengthAdjust="spacingAndGlyphs">"E_test"</text>
<line x1="1606.0" y1="544.3" x2="1637.0" y2="544.3" stroke-width="2.6"/>
<path d="M1616 538 L1620.6 544 L1616 550 L1611.6 544 Z"/>
<line x1="1606.0" y1="562.8" x2="1637.0" y2="562.8" stroke-width="3.4"/>
<path d="M1049.3 666.3 L1051.9 664.7 L1054.5 663.0 L1057.2 661.1 L1059.8 659.0 L1062.3 656.7 L1064.6 654.3 L1066.7 651.8 L1068.6 649.3 L1070.5 646.7 L1072.3 643.9 L1073.9 641.0 L1075.4 638.1 L1076.7 635.2 L1077.9 632.4 L1079.1 629.6 L1080.3 626.8 L1081.4 624.0 L1082.6 621.1 L1083.6 618.3 L1084.7 615.4 L1085.8 612.6 L1086.8 609.8 L1087.9 607.1 L1089.0 604.5 L1090.1 601.8 L1091.3 599.2 L1092.6 596.6 L1094.0 593.9 L1095.3 591.2 L1096.6 588.5 L1098.0 585.8 L1099.3 583.0 L1100.6 580.2 L1101.9 577.5 L1103.1 574.7 L1104.3 571.9 L1105.5 569.2 L1106.8 566.4 L1108.0 563.7 L1109.2 560.9 L1110.4 558.2 L1111.6 555.5 L1112.9 552.8 L1114.1 550.1 L1115.4 547.3 L1116.6 544.6 L1117.9 541.9 L1119.2 539.2 L1120.4 536.6 L1121.8 534.0 L1123.1 531.5 L1124.6 528.9 L1126.0 526.3 L1127.5 523.8 L1129.0 521.3 L1130.5 518.8 L1132.2 516.3 L1133.8 513.7 L1135.4 510.9 L1136.9 508.1 L1138.3 505.3 L1139.6 502.7 L1140.9 500.1 L1142.3 497.6 L1143.7 495.2 L1145.2 492.8 L1146.8 490.4 L1148.5 488.0 L1150.2 485.6 L1152.0 483.2 L1153.7 480.7 L1155.5 478.2 L1157.2 475.7 L1158.8 473.3 L1160.5 471.0 L1162.2 468.8 L1164.0 466.7 L1166.0 464.6 L1168.0 462.5 L1170.0 460.5 L1172.1 458.4 L1174.2 456.4 L1176.4 454.4 L1178.6 452.5 L1180.8 450.5 L1183.1 448.5 L1185.4 446.5 L1187.6 444.4 L1189.8 442.4 L1192.0 440.5 L1194.1 438.6 L1196.3 436.9 L1198.5 435.3 L1200.8 433.8 L1203.2 432.3 L1205.8 430.8 L1208.4 429.3 L1211.0 427.8 L1213.6 426.3 L1216.1 424.9 L1218.5 423.5 L1221.1 422.3 L1223.7 421.1 L1226.5 419.9 L1229.3 418.6 L1232.0 417.3 L1234.6 416.0 L1237.2 414.9 L1239.9 413.8 L1242.6 412.8 L1245.3 411.9 L1248.1 410.9 L1251.0 410.0 L1253.9 409.3 L1256.7 408.3 L1259.5 407.5 L1262.3 406.6 L1265.1 405.8 L1267.9 405.0 L1270.8 404.3 L1273.7 403.6 L1276.6 402.9 L1279.6 402.1 L1282.5 401.3 L1285.5 400.5 L1288.4 399.7 L1291.2 398.9 L1294.0 398.1 L1296.9 397.4 L1299.7 396.7 L1302.6 396.1 L1305.5 395.5 L1308.5 394.9 L1311.5 394.2 L1314.5 393.4 L1317.5 392.6 L1320.3 391.9 L1323.1 391.2 L1325.9 390.6 L1328.7 390.0 L1331.7 389.5 L1334.7 389.0 L1337.7 388.4 L1340.8 387.7 L1343.8 387.0 L1346.8 386.2 L1349.6 385.4 L1352.5 384.7 L1355.3 384.0 L1358.1 383.4 L1361.0 382.9 L1363.9 382.4 L1366.8 381.9 L1369.7 381.4 L1372.7 380.9 L1375.6 380.4 L1378.6 379.9 L1381.5 379.5 L1384.5 379.0 L1387.4 378.6 L1390.4 378.2 L1393.4 377.7 L1396.4 377.3 L1399.3 376.9 L1402.3 376.4 L1405.3 376.0 L1408.2 375.6 L1411.2 375.2 L1414.3 374.7 L1417.3 374.3 L1420.4 373.7 L1423.5 373.1 L1426.5 372.4 L1429.5 371.7 L1432.4 371.0 L1435.3 370.3 L1438.1 369.6 L1440.9 369.1 L1443.7 368.6 L1446.6 368.1 L1449.5 367.7 L1452.5 367.3 L1455.6 366.9 L1458.7 366.4 L1461.8 365.7 L1464.9 365.0 L1467.9 364.2 L1470.9 363.4 L1473.8 362.6 L1476.7 361.8 L1479.5 361.0 L1482.4 360.2 L1485.3 359.4 L1488.3 358.6 L1491.2 357.7 L1494.1 356.9 L1497.0 356.0 L1499.9 355.2 L1502.8 354.3 L1505.7 353.4 L1508.6 352.5 L1511.5 351.6 L1514.5 350.6 L1517.5 349.5 L1520.4 348.4 L1523.2 347.2 L1526.0 346.0 L1528.8 344.8 L1531.5 343.6 L1534.3 342.4 L1537.1 341.2 L1539.9 340.0 L1542.7 338.7 L1545.5 337.4 L1548.2 336.2 L1550.9 334.9 L1553.7 333.6 L1556.4 332.3 L1559.2 330.9 L1562.1 329.4 L1564.9 327.7 L1567.7 325.8 L1570.2 323.8 L1572.7 321.8 L1575.0 319.8 L1577.3 317.9 L1579.6 315.9 L1581.9 314.0 L1584.2 312.0 L1586.5 310.0 L1588.8 307.9 L1591.1 305.7 L1593.3 303.4 L1595.5 301.2 L1597.6 299.0 L1599.6 296.7 L1601.7 294.5 L1603.7 292.3 L1605.7 290.1 L1607.8 287.8 L1609.8 285.5 L1611.9 283.2 L1613.9 280.7 L1615.8 278.2 L1617.7 275.7 L1619.5 273.2 L1621.2 270.7 L1623.0 268.3 L1624.7 265.8 L1626.4 263.2 L1628.2 260.7 L1629.8 258.1 L1631.5 255.5 L1633.1 252.9 L1634.6 250.3 L1636.2 247.6 L1637.7 245.0 L1639.3 242.2 L1640.8 239.3 L1642.1 236.4 L1643.4 233.6 L1644.6 230.7 L1645.7 227.9 L1646.8 225.1 L1647.9 222.4 L1649.1 219.6 L1650.2 216.9 L1651.4 214.2 L1652.6 211.5 L1653.9 208.7 L1655.1 206.0 L1656.3 203.2 L1657.5 200.5 L1658.8 197.7 L1660.0 194.9 L1661.2 192.2 L1662.4 189.4 L1663.6 186.6 L1664.8 183.7 L1665.9 180.7 L1666.9 177.6 L1667.8 174.6 L1668.7 171.6 L1669.5 168.7 L1670.2 165.7 L1671.0 162.8 L1671.7 159.8 L1672.4 156.8 L1673.1 153.8 L1673.7 150.8 L1674.4 147.9 L1675.0 144.9 L1675.6 142.0 L1676.2 139.0 L1676.8 136.1 L1677.4 133.2 L1678.1 130.2 L1678.7 127.3 L1679.3 124.5 L1680.0 121.6 L1680.7 118.9 L1681.5 116.1 L1682.3 113.3 L1683.2 110.5 L1684.1 107.8 L1685.0 105.3 L1686.1 102.7 L1687.2 100.3 L1688.4 98.1 L1689.7 96.2 L1691.0 94.6 L1692.7 93.1 L1694.8 91.5 L1687.2 81.5 L1684.7 83.5 L1682.0 85.9 L1679.7 88.7 L1677.7 91.7 L1676.1 94.6 L1674.7 97.6 L1673.4 100.6 L1672.3 103.7 L1671.3 106.7 L1670.3 109.6 L1669.5 112.6 L1668.6 115.6 L1667.8 118.6 L1667.1 121.7 L1666.5 124.7 L1665.8 127.6 L1665.2 130.6 L1664.6 133.5 L1664.0 136.5 L1663.4 139.4 L1662.7 142.4 L1662.1 145.3 L1661.5 148.2 L1660.9 151.1 L1660.2 154.0 L1659.6 156.9 L1658.9 159.7 L1658.1 162.6 L1657.4 165.5 L1656.6 168.3 L1655.8 171.1 L1655.0 173.8 L1654.1 176.5 L1653.1 179.1 L1652.0 181.8 L1650.9 184.5 L1649.7 187.2 L1648.5 190.0 L1647.3 192.7 L1646.1 195.4 L1644.9 198.2 L1643.7 200.9 L1642.5 203.7 L1641.2 206.4 L1640.0 209.2 L1638.8 212.0 L1637.6 214.8 L1636.4 217.6 L1635.2 220.4 L1634.1 223.2 L1633.0 226.0 L1631.9 228.7 L1630.7 231.3 L1629.5 233.8 L1628.3 236.3 L1626.9 238.8 L1625.4 241.3 L1623.9 243.8 L1622.4 246.4 L1620.8 248.9 L1619.3 251.4 L1617.7 253.9 L1616.1 256.3 L1614.5 258.8 L1612.8 261.2 L1611.1 263.7 L1609.4 266.1 L1607.7 268.5 L1606.0 270.9 L1604.3 273.1 L1602.5 275.3 L1600.6 277.5 L1598.7 279.7 L1596.7 281.9 L1594.7 284.1 L1592.7 286.3 L1590.7 288.6 L1588.7 290.8 L1586.7 292.9 L1584.7 295.1 L1582.7 297.1 L1580.6 299.1 L1578.5 301.0 L1576.3 302.9 L1574.1 304.9 L1571.8 306.9 L1569.5 308.8 L1567.3 310.8 L1565.0 312.7 L1562.8 314.5 L1560.7 316.2 L1558.5 317.7 L1556.2 319.1 L1553.8 320.4 L1551.2 321.6 L1548.6 322.9 L1545.9 324.2 L1543.2 325.5 L1540.5 326.8 L1537.8 328.0 L1535.1 329.2 L1532.4 330.4 L1529.6 331.6 L1526.9 332.8 L1524.1 334.0 L1521.4 335.1 L1518.6 336.3 L1515.9 337.4 L1513.2 338.5 L1510.6 339.5 L1507.9 340.4 L1505.1 341.3 L1502.2 342.1 L1499.4 343.0 L1496.5 343.9 L1493.6 344.7 L1490.8 345.6 L1487.9 346.4 L1485.1 347.2 L1482.2 348.0 L1479.3 348.8 L1476.4 349.6 L1473.5 350.4 L1470.6 351.2 L1467.7 352.1 L1464.9 352.8 L1462.1 353.6 L1459.3 354.2 L1456.6 354.7 L1453.8 355.2 L1450.9 355.6 L1447.9 356.0 L1444.9 356.5 L1441.8 356.9 L1438.7 357.5 L1435.6 358.1 L1432.6 358.8 L1429.6 359.5 L1426.7 360.2 L1423.8 360.9 L1421.0 361.6 L1418.2 362.1 L1415.4 362.6 L1412.5 363.1 L1409.6 363.5 L1406.6 363.9 L1403.6 364.3 L1400.6 364.8 L1397.7 365.2 L1394.7 365.6 L1391.7 366.0 L1388.7 366.5 L1385.7 366.9 L1382.7 367.4 L1379.7 367.8 L1376.7 368.3 L1373.8 368.8 L1370.8 369.2 L1367.8 369.7 L1364.8 370.2 L1361.8 370.8 L1358.8 371.3 L1355.8 371.9 L1352.7 372.5 L1349.7 373.2 L1346.7 374.0 L1343.7 374.8 L1340.9 375.5 L1338.1 376.2 L1335.3 376.8 L1332.5 377.4 L1329.5 377.9 L1326.6 378.4 L1323.5 379.0 L1320.5 379.7 L1317.4 380.4 L1314.4 381.2 L1311.5 382.0 L1308.7 382.7 L1305.9 383.3 L1303.1 384.0 L1300.1 384.6 L1297.1 385.2 L1294.1 385.9 L1291.1 386.7 L1288.1 387.5 L1285.2 388.3 L1282.3 389.1 L1279.4 389.9 L1276.6 390.7 L1273.7 391.4 L1270.8 392.1 L1267.9 392.9 L1264.9 393.6 L1261.9 394.4 L1259.0 395.3 L1256.0 396.2 L1253.1 397.1 L1250.2 398.0 L1247.4 399.2 L1244.5 400.2 L1241.6 401.2 L1238.7 402.2 L1235.8 403.3 L1232.8 404.5 L1230.0 405.8 L1227.2 407.1 L1224.5 408.3 L1221.8 409.6 L1219.1 410.8 L1216.3 412.1 L1213.4 413.5 L1210.6 415.0 L1207.9 416.5 L1205.3 418.1 L1202.7 419.6 L1200.1 421.0 L1197.5 422.6 L1194.8 424.2 L1192.1 426.0 L1189.4 427.9 L1186.9 429.9 L1184.5 432.0 L1182.2 434.0 L1180.0 436.1 L1177.8 438.1 L1175.6 440.1 L1173.3 442.0 L1171.1 444.0 L1168.8 446.1 L1166.5 448.2 L1164.3 450.3 L1162.1 452.4 L1159.9 454.6 L1157.7 456.9 L1155.6 459.2 L1153.5 461.6 L1151.5 464.2 L1149.6 466.7 L1147.9 469.3 L1146.2 471.8 L1144.5 474.2 L1142.8 476.6 L1141.0 479.0 L1139.3 481.5 L1137.5 484.0 L1135.7 486.6 L1134.0 489.3 L1132.4 492.1 L1130.9 494.8 L1129.5 497.6 L1128.2 500.3 L1126.9 502.9 L1125.6 505.4 L1124.1 507.8 L1122.6 510.3 L1121.0 512.8 L1119.4 515.4 L1117.8 518.0 L1116.2 520.7 L1114.7 523.4 L1113.2 526.1 L1111.7 528.8 L1110.3 531.6 L1109.0 534.3 L1107.7 537.1 L1106.4 539.9 L1105.1 542.6 L1103.9 545.3 L1102.6 548.1 L1101.4 550.8 L1100.1 553.6 L1098.9 556.3 L1097.7 559.1 L1096.4 561.9 L1095.2 564.6 L1094.0 567.3 L1092.8 570.1 L1091.6 572.8 L1090.3 575.5 L1089.1 578.2 L1087.8 580.8 L1086.5 583.5 L1085.2 586.2 L1083.8 588.9 L1082.5 591.6 L1081.2 594.3 L1079.8 597.2 L1078.6 600.0 L1077.4 602.9 L1076.3 605.8 L1075.2 608.7 L1074.1 611.5 L1073.1 614.3 L1072.0 617.0 L1070.9 619.8 L1069.8 622.5 L1068.7 625.2 L1067.5 627.9 L1066.3 630.6 L1065.2 633.3 L1063.9 635.7 L1062.6 638.0 L1061.2 640.3 L1059.6 642.5 L1057.9 644.7 L1056.1 646.8 L1054.3 648.7 L1052.5 650.4 L1050.4 652.0 L1048.2 653.6 L1045.8 655.1 L1043.3 656.7 Z" stroke="none"/>
<circle cx="1046.3" cy="661.5" r="5.7" stroke="none"/>
<circle cx="1691.0" cy="86.5" r="6.2" stroke="none"/>
<path d="M1213.0 414.5 L1218.0 408.5 L1225.0 402.0 L1235.0 395.9 L1245.0 390.4 L1252.0 385.7 L1266.2 372.4 L1278.4 366.3 L1290.6 358.1 L1305.2 347.4 L1328.0 334.1 L1347.0 330.3 L1366.0 321.8 L1381.1 314.6 L1388.7 308.1 L1401.7 301.6 L1410.4 295.1 L1421.2 295.1 L1427.8 285.3 L1438.6 282.0 L1451.6 277.7 L1460.3 274.4 L1466.8 266.8 L1477.7 261.4 L1484.2 254.9 L1497.2 249.5 L1504.8 240.8 L1516.8 234.3 L1527.6 226.7 L1536.3 218.0 L1547.2 210.4 L1553.7 201.7 L1560.0 197.4 L1580.0 182.6 L1598.3 164.3 L1609.2 146.0 L1623.9 127.6 L1630.0 125.0 L1636.5 115.8 L1643.0 109.3 L1654.4 102.8 L1662.6 97.9 L1669.1 93.0 L1675.6 89.8 L1688.0 87.0" fill="none" stroke-width="2.8" stroke-linejoin="round"/>
<rect x="1686" y="83" width="13" height="11" rx="3"/>
</g>
</svg>
</body></html>
